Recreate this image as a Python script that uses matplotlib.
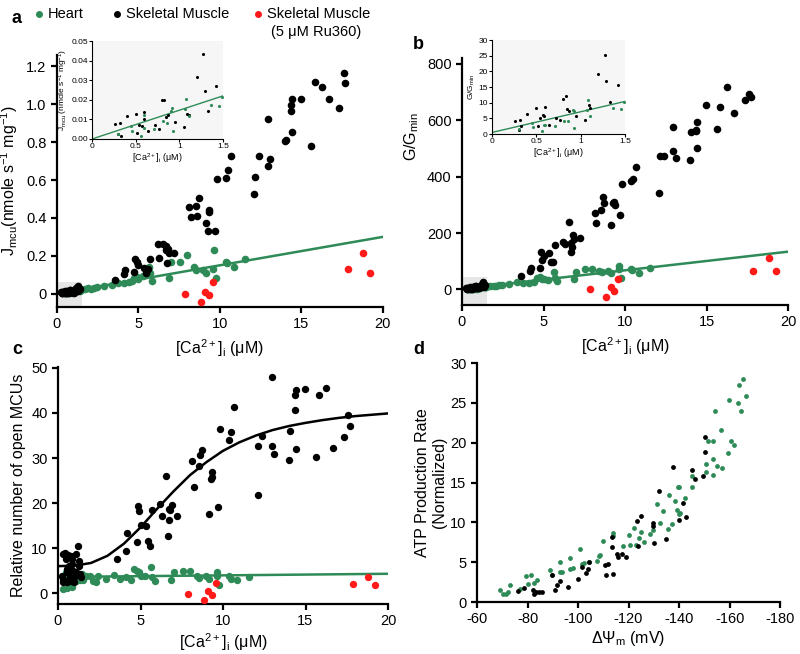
import matplotlib.pyplot as plt
from matplotlib.lines import Line2D
from matplotlib.patches import Rectangle

plt.rcParams['font.family'] = ['Liberation Sans', 'DejaVu Sans']
plt.rcParams['mathtext.default'] = 'regular'
plt.rcParams['axes.unicode_minus'] = False

GREEN = '#2e8b57'
RED = '#ff1a1a'

# skeletal muscle, [Ca2+]i above the inset range (same x in panels a, b, c)
sk_x = [3.6, 4.15, 4.21, 4.76, 4.82, 4.9, 5.0, 5.32, 5.48, 5.58, 5.69, 6.2, 6.3, 6.54,
        6.67, 6.7, 6.75, 6.81, 6.9, 7.22, 8.14, 8.22, 8.55, 8.63, 8.71, 9.16, 9.28, 9.33,
        9.36, 9.71, 9.84, 10.35, 10.51, 10.67, 12.1, 12.13, 12.39, 12.95, 12.97, 13.11,
        13.97, 14.05, 14.36, 14.38, 14.42, 14.44, 14.97, 15.62, 15.83, 16.26, 16.69,
        17.34, 17.6, 17.7]
sk_a = [0.075, 0.102, 0.125, 0.114, 0.181, 0.167, 0.154, 0.137, 0.111, 0.132, 0.181, 0.26,
        0.189, 0.263, 0.254, 0.233, 0.163, 0.237, 0.216, 0.216, 0.456, 0.405, 0.465, 0.409,
        0.504, 0.374, 0.333, 0.444, 0.433, 0.33, 0.607, 0.61, 0.654, 0.725, 0.528, 0.614,
        0.725, 0.675, 0.923, 0.712, 0.804, 0.812, 0.967, 0.996, 1.026, 0.856, 1.026, 0.781,
        1.12, 1.093, 1.026, 0.982, 1.163, 1.114]
sk_b = [47, 67, 77, 77, 132, 106, 120, 130, 99, 96, 156, 167, 162, 240, 132, 166, 150, 192,
        180, 181, 272, 237, 280, 326, 308, 228, 305, 311, 298, 263, 375, 384, 390, 433, 343,
        472, 473, 492, 576, 465, 458, 557, 561, 565, 594, 500, 653, 568, 646, 718, 626, 672,
        693, 683]
sk_c = [7.5, 9.3, 13.4, 11.3, 19.3, 18.2, 15.2, 15.0, 11.5, 10.4, 18.5, 19.9, 17.1, 26.0,
        12.6, 18.7, 16.3, 18.4, 19.5, 17.1, 29.3, 23.5, 28.2, 30.7, 31.8, 17.6, 25.3, 26.9,
        25.7, 19.1, 36.5, 33.9, 35.7, 41.4, 21.7, 32.6, 34.9, 32.6, 47.9, 31.0, 29.6, 36.0,
        40.7, 43.9, 45.0, 31.9, 45.3, 30.2, 44.0, 45.5, 32.2, 34.6, 39.5, 37.2]

# skeletal muscle, low [Ca2+]i (insets)
skl_x = [0.26, 0.30, 0.32, 0.33, 0.40, 0.50, 0.52, 0.54, 0.57, 0.59, 0.60, 0.64, 0.72, 0.77,
         0.80, 0.83, 0.85, 0.87, 0.95, 1.05, 1.09, 1.11, 1.20, 1.27, 1.29, 1.33, 1.42]
skl_a = [0.0077, 0.0025, 0.008, 0.0017, 0.0117, 0.013, 0.0033, 0.0072, 0.0064, 0.0103,
         0.0138, 0.0042, 0.0073, 0.0053, 0.0197, 0.0197, 0.011, 0.012, 0.0087, 0.006,
         0.0128, 0.0122, 0.0317, 0.0434, 0.0243, 0.0145, 0.0272]
skl_b = [4.2, 1.4, 4.45, 2.4, 6.4, 8.3, 2.65, 5.2, 6.2, 5.9, 8.5, 2.75, 5.0, 4.6, 11.3, 12.0,
         8.0, 7.4, 5.7, 4.35, 9.4, 8.4, 19.3, 25.3, 16.9, 10.2, 15.8]
skl_c = [3.8, 2.4, 8.6, 3.2, 9.0, 7.5, 2.4, 5.3, 4.6, 4.9, 8.4, 6.0, 3.5, 2.7, 8.2, 7.6, 5.1,
         6.4, 2.4, 3.8, 4.6, 8.6, 10.4, 7.1, 6.0, 4.2, 3.5]

# heart
ht_x = [1.5, 1.7, 1.94, 2.1, 2.3, 2.45, 2.9, 3.39, 3.76, 4.1, 4.42, 4.62, 4.76, 4.9, 5.01,
        5.26, 5.64, 5.72, 5.85, 6.87, 7.0, 7.55, 8.0, 8.4, 8.57, 8.96, 9.15, 9.61, 9.62,
        9.78, 10.35, 10.46, 10.86, 11.55]
ht_a = [0.023, 0.023, 0.03, 0.023, 0.03, 0.033, 0.039, 0.046, 0.054, 0.058, 0.061, 0.067,
        0.084, 0.089, 0.079, 0.093, 0.142, 0.11, 0.067, 0.084, 0.167, 0.167, 0.204, 0.14,
        0.125, 0.123, 0.11, 0.133, 0.23, 0.084, 0.168, 0.16, 0.142, 0.184]
ht_b = [12, 14, 14, 12, 17, 17, 21, 27, 24, 24, 26, 41, 45, 38, 36, 35, 63, 40, 30, 38, 63,
        71, 71, 64, 62, 64, 59, 71, 83, 39, 73, 68, 59, 77]
ht_c = [2.9, 3.8, 3.7, 2.7, 2.4, 3.8, 3.2, 4.0, 3.2, 3.5, 2.9, 5.4, 4.9, 4.6, 3.7, 3.7, 5.9,
        3.5, 2.7, 2.9, 4.8, 5.0, 4.9, 3.8, 3.3, 3.7, 3.1, 4.7, 3.9, 1.8, 3.7, 3.1, 2.9, 3.6]
htl_x = [0.30, 0.45, 0.46, 0.56, 0.59, 0.60, 0.71, 0.81, 0.86, 0.91, 0.92, 0.93, 1.07, 1.08,
         1.11, 1.36, 1.45, 1.49]
htl_a = [0.0027, 0.0064, 0.0042, 0.0017, 0.012, 0.0056, 0.0051, 0.009, 0.0081, 0.0145,
         0.0159, 0.0039, 0.0155, 0.0204, 0.0115, 0.0174, 0.0169, 0.0216]
htl_b = [1.6, 3.5, 2.2, 1.0, 3.0, 2.75, 2.65, 4.0, 4.2, 7.7, 7.2, 1.9, 7.7, 10.7, 5.6, 8.3,
         8.0, 10.2]
htl_c = [1.0, 3.5, 4.6, 1.25, 2.5, 3.0, 4.0, 3.8, 1.3, 2.5, 3.5, 4.0, 2.7, 3.3, 4.2, 3.0,
         4.2, 3.5]

# skeletal muscle + 5 uM Ru360
ru_x = [7.85, 8.83, 9.12, 9.33, 9.57, 17.85, 18.81, 19.24]
ru_a = [0.0, -0.042, 0.0105, -0.005, 0.061, 0.128, 0.216, 0.11]
ru_b = [0, -26, 9.5, -5, 38, 67, 112, 67]
ru_c = [-0.2, -1.5, 0.5, -0.4, 2.2, 2.0, 3.5, 1.8]

# fit lines
fit_x = [0, 20]
fit_a = [0.0, 0.30]
fit_b = [2, 134]
fit_c = [3.6, 4.3]
fit_in_x = [0, 1.5]
fit_in_a = [0.0, 0.022]
fit_in_b = [0.5, 10.4]
sig_x = list(range(21))
sig_c = [6.0, 6.1, 6.7, 8.3, 11.0, 14.6, 18.7, 22.6, 26.2, 29.1, 31.6, 33.5, 35.0, 36.2,
         37.1, 37.8, 38.4, 38.9, 39.3, 39.6, 39.9]

# panel d
d_ht_x = [-69.2, -70.3, -71.3, -72.4, -72.9, -77.1, -79.3, -81.4, -80, -82.4, -83.7, -88.7,
          -89.7, -93, -92.7, -93.6, -96.7, -96.9, -98, -100.7, -101.5, -102.5, -104.3,
          -107.5, -108.1, -109.7, -108.5, -113.7, -113.8, -117.8, -120.1, -120.4, -122,
          -123, -124.2, -124.9, -126, -128.3, -129.5, -131.2, -132.4, -133.5, -136.2,
          -135.6, -137.1, -138.2, -139.1, -139.4, -139.8, -140, -140.4, -142.2, -145.3,
          -145.3, -150.5, -150.7, -151.5, -153.6, -153.6, -153.6, -154.3, -155, -156.5,
          -156.9, -159.3, -159.7, -160.6, -161.8, -163.3, -163.7, -164.4, -165.2, -166.6]
d_ht_y = [1.55, 0.96, 0.96, 1.26, 2.1, 1.67, 3.26, 3.35, 2.3, 2.4, 2.8, 3.97, 3.35, 4.98,
          3.77, 3.72, 5.48, 4.18, 4.3, 6.69, 4.81, 4.9, 5.02, 5.15, 5.73, 7.7, 5.86, 8.7,
          8.24, 7.03, 8.41, 7.1, 9.33, 7.15, 8.07, 8.79, 7.49, 8.49, 9.0, 12.26, 9.96, 11.42,
          13.39, 9.2, 9.79, 12.64, 11.59, 14.5, 14.5, 11.09, 11.2, 13.05, 15.77, 14.5, 16.3,
          17.36, 20.2, 20.2, 17.95, 15.9, 23.97, 17.03, 21.63, 16.86, 18.74, 25.31, 20.25,
          19.75, 25.02, 27.28, 24.02, 27.99, 25.82]
d_sk_x = [-76.1, -78.7, -82.2, -82.4, -83.5, -84.7, -85.7, -89.7, -91, -91.7, -93, -96,
          -99.8, -101.5, -103.1, -103.9, -104.3, -110.5, -111.7, -111, -113.7, -113.3,
          -113.3, -115.4, -115.9, -117.5, -118.8, -123.3, -123.7, -125.1, -129.5, -129.5,
          -129.9, -132, -134.8, -137.4, -141.5, -139.8, -142.9, -145.3, -146.4, -149.3,
          -150.1, -150.2]
d_sk_y = [1.34, 1.76, 1.46, 0.96, 1.21, 1.21, 1.21, 3.43, 1.55, 2.1, 2.64, 1.88, 2.93, 4.39,
          3.6, 4.14, 5.02, 4.6, 4.81, 3.43, 3.56, 8.16, 6.9, 6.07, 5.65, 6.07, 5.65, 10.17,
          6.99, 10.75, 9.96, 9.58, 7.36, 13.97, 7.87, 16.95, 12.43, 10.25, 10.67, 16.61,
          15.48, 15.77, 18.83, 20.71]

fig = plt.figure(figsize=(8, 6.54), dpi=100)

ca_label = '[Ca$^{2+}$]$_i$ (μM)'


def style(ax, size=10.5, lw=1.6):
    for s in ['top', 'right']:
        ax.spines[s].set_visible(False)
    for s in ['left', 'bottom']:
        ax.spines[s].set_linewidth(lw)
    ax.tick_params(direction='out', width=lw, length=4, labelsize=size)


def inset(rect, hx, hy, sx, sy, fy, ylim, yticks, ylabel):
    ax = fig.add_axes(rect)
    ax.set_facecolor('#f6f6f6')
    ax.scatter(sx, sy, s=5, color='black', lw=0, zorder=3)
    ax.scatter(hx, hy, s=5, color=GREEN, lw=0, zorder=3)
    ax.plot(fit_in_x, fy, color=GREEN, lw=1.0, zorder=2)
    ax.set_xlim(0, 1.5)
    ax.set_ylim(*ylim)
    ax.set_xticks([0, 0.5, 1, 1.5])
    ax.set_xticklabels(['0', '0.5', '1', '1.5'])
    ax.set_yticks(yticks)
    style(ax, size=6, lw=0.8)
    ax.tick_params(length=2, pad=1)
    ax.set_xlabel(ca_label, fontsize=6.5, labelpad=1)
    ax.set_ylabel(ylabel, fontsize=6, labelpad=1)
    return ax


# ---- panel a
ax = fig.add_axes([0.071, 0.5306, 0.4075, 0.3853])
ax.add_patch(Rectangle((0, -0.07), 1.55, 0.13, color='#e6e6e6', lw=0, zorder=0))
ax.plot(fit_x, fit_a, color=GREEN, lw=1.8, zorder=2)
ax.scatter(ht_x + htl_x, ht_a + htl_a, s=30, color=GREEN, lw=0, zorder=3)
ax.scatter(sk_x + skl_x, sk_a + skl_a, s=30, color='black', lw=0, zorder=3)
ax.scatter(ru_x, ru_a, s=30, color=RED, lw=0, zorder=3)
ax.set_xlim(0, 20)
ax.set_ylim(-0.07, 1.26)
ax.set_xticks([0, 5, 10, 15, 20])
ax.set_yticks([0, 0.2, 0.4, 0.6, 0.8, 1.0, 1.2])
ax.set_yticklabels(['0', '0.2', '0.4', '0.6', '0.8', '1.0', '1.2'])
style(ax)
ax.set_xlabel(ca_label, fontsize=11.5)
ax.set_ylabel('J$_{mcu}$(nmole s$^{-1}$ mg$^{-1}$)', fontsize=11.5)

inset([0.115, 0.7875, 0.16375, 0.1498], htl_x, htl_a, skl_x, skl_a, fit_in_a,
      (0, 0.05), [0, 0.01, 0.02, 0.03, 0.04, 0.05], 'J$_{mcu}$ (nmole s$^{-1}$ mg$^{-1}$)')

# ---- panel b
ax = fig.add_axes([0.5775, 0.5336, 0.4075, 0.3777])
ax.add_patch(Rectangle((0, -55), 1.55, 100, color='#e6e6e6', lw=0, zorder=0))
ax.plot(fit_x, fit_b, color=GREEN, lw=1.8, zorder=2)
ax.scatter(ht_x + htl_x, ht_b + htl_b, s=30, color=GREEN, lw=0, zorder=3)
ax.scatter(sk_x + skl_x, sk_b + skl_b, s=30, color='black', lw=0, zorder=3)
ax.scatter(ru_x, ru_b, s=30, color=RED, lw=0, zorder=3)
ax.set_xlim(0, 20)
ax.set_ylim(-55, 820)
ax.set_xticks([0, 5, 10, 15, 20])
ax.set_yticks([0, 200, 400, 600, 800])
style(ax)
ax.set_xlabel(ca_label, fontsize=11.5)
ax.set_ylabel('G/G$_{min}$', fontsize=11.5)
ax.yaxis.set_label_coords(-0.125, 0.68)

inset([0.615, 0.7951, 0.16625, 0.1437], htl_x, htl_b, skl_x, skl_b, fit_in_b,
      (0, 30), [0, 5, 10, 15, 20, 25, 30], 'G/G$_{min}$')

# ---- panel c
ax = fig.add_axes([0.0725, 0.0765, 0.4125, 0.3623])
ax.plot(fit_x, fit_c, color=GREEN, lw=1.8, zorder=2)
ax.plot(sig_x, sig_c, color='black', lw=1.8, zorder=2)
ax.scatter(ht_x + htl_x, ht_c + htl_c, s=28, color=GREEN, lw=0, zorder=3)
ax.scatter(sk_x + skl_x, sk_c + skl_c, s=28, color='black', lw=0, zorder=3)
ax.scatter(ru_x, ru_c, s=28, color=RED, lw=0, zorder=3)
ax.set_xlim(0, 20)
ax.set_ylim(-2.4, 50.2)
ax.set_xticks([0, 5, 10, 15, 20])
ax.set_yticks([0, 10, 20, 30, 40, 50])
style(ax)
ax.set_xlabel(ca_label, fontsize=11.5, labelpad=2)
ax.set_ylabel('Relative number of open MCUs', fontsize=11.5)

# ---- panel d
ax = fig.add_axes([0.5963, 0.0795, 0.3788, 0.3654])
ax.scatter(d_ht_x, d_ht_y, s=12, color=GREEN, lw=0, zorder=3)
ax.scatter(d_sk_x, d_sk_y, s=12, color='black', lw=0, zorder=3)
ax.set_xlim(-60, -180)
ax.set_ylim(0, 30)
ax.set_xticks([-60, -80, -100, -120, -140, -160, -180])
ax.set_yticks([0, 5, 10, 15, 20, 25, 30])
style(ax)
ax.set_xlabel('ΔΨ$_m$ (mV)', fontsize=11.5, labelpad=2)
ax.set_ylabel('ATP Production Rate\n(Normalized)', fontsize=11.5, labelpad=2)

# ---- panel letters and legend
for lab, x, y in [('a', 0.015, 0.985), ('b', 0.516, 0.945), ('c', 0.015, 0.478),
                  ('d', 0.516, 0.478)]:
    fig.text(x, y, lab, fontsize=13, fontweight='bold', ha='left', va='top')

for x, c, t in [(0.049, GREEN, 'Heart'), (0.146, 'black', 'Skeletal Muscle'),
                (0.3225, RED, 'Skeletal Muscle')]:
    fig.add_artist(Line2D([x], [0.9785], marker='o', ms=4, color=c, lw=0,
                          transform=fig.transFigure))
    fig.text(x + 0.011, 0.9785, t, fontsize=10.5, va='center', ha='left')
fig.text(0.395, 0.951, '(5 μM Ru360)', fontsize=10.5, va='center', ha='center')

fig.savefig('out.png', dpi=100)
